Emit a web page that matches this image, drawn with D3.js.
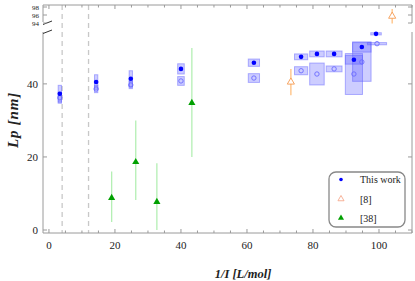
<!DOCTYPE html>
<html>
<head>
<meta charset="utf-8">
<script src="https://cdn.jsdelivr.net/npm/d3@7"></script>
<style>
  body { margin: 0; background: #fff; }
  text { font-family: "Liberation Serif", "DejaVu Serif", serif; fill: #222; }
</style>
</head>
<body>
<div id="chart"></div>
<script>
// this work: x position, filled/open Lp values and their error half-widths
var xThis    = [3.3, 14.3, 24.8, 40, 62.1, 76.4, 81.2, 86.4, 92.4, 94.8, 99.1];
var xErr     = [0.5, 0.5, 0.5, 1.0, 1.7, 2.0, 2.2, 2.4, 2.6, 2.8, 1.6];
var lpFilled = [37.3, 40.5, 41.4, 44.1, 45.8, 47.4, 48.2, 48.2, 46.6, 50.1, 53.7];
var errFilled = [2.3, 2.0, 2.2, 1.4, 1.0, 0.8, 0.8, 0.8, 1.2, 1.4, 0.3];
var xOpen    = [3.3, 14.3, 24.8, 40, 62.1, 76.4, 81.2, 86.4, 92.4, 94.8, 99.4];
var xErrOpen = [0.5, 0.5, 0.5, 1.0, 1.7, 2.0, 2.2, 2.4, 2.6, 2.8, 2.9];
var lpOpen   = [36.2, 38.6, 39.7, 40.8, 41.6, 43.6, 42.7, 44.1, 42.7, 46.0, 51.0];
var errOpen  = [1.5, 1.0, 1.0, 1.2, 1.2, 1.1, 3.0, 0.8, 5.6, 5.3, 0.3];

// ref [8]
var x8  = [73.3, 104];
var lp8 = [40.5, 95.7];
var err8 = [3.6, 1.8];

// ref [38]
var x38  = [19, 26.3, 32.7, 43.3];
var lp38 = [8.8, 18.6, 7.7, 34.8];
var lo38 = [2.2, 8.2, 0, 20];
var hi38 = [16, 30, 18.3, 49.8];

var dashedX = [4, 12];
var xTicks = [0, 20, 40, 60, 80, 100];
var yTicksLow = [0, 20, 40];
var yTicksHigh = [94, 96, 98];
var legendLabels = ["This work", "[8]", "[38]"];

var width = 415, height = 281;
var left = 43, right = 412, bottom = 233;
var lowTop = 32, highTop = 5, highBottom = 22;

var x = d3.scaleLinear().domain([-1.8, 110]).range([left, right]);
var yLow = d3.scaleLinear().domain([-0.82, 54.2]).range([bottom, lowTop]);
var yHigh = d3.scaleLinear().domain([94.25, 98.5]).range([highBottom, highTop]);
function y(v) { return v > 90 ? yHigh(v) : yLow(v); }

var svg = d3.select("#chart").append("svg")
    .attr("width", width).attr("height", height);

var axisColor = "#9a9a9a";

// dashed reference lines
svg.selectAll(".dash").data(dashedX).enter().append("line")
    .attr("x1", d => x(d)).attr("x2", d => x(d))
    .attr("y1", highTop).attr("y2", bottom)
    .attr("stroke", "#c8c8c8").attr("stroke-width", 1.3)
    .attr("stroke-dasharray", "5,4");

// frame
var frame = svg.append("g").attr("stroke", axisColor).attr("stroke-width", 1).attr("fill", "none");
frame.append("line").attr("x1", left).attr("x2", right).attr("y1", bottom).attr("y2", bottom);
frame.append("line").attr("x1", left).attr("x2", right).attr("y1", highTop).attr("y2", highTop);
frame.append("line").attr("x1", left).attr("x2", left).attr("y1", highTop).attr("y2", highBottom);
frame.append("line").attr("x1", left).attr("x2", left).attr("y1", lowTop).attr("y2", bottom);
frame.append("line").attr("x1", right).attr("x2", right).attr("y1", highTop).attr("y2", highBottom + 1);
frame.append("line").attr("x1", right).attr("x2", right).attr("y1", lowTop).attr("y2", bottom);

// axis break marks
frame.append("line").attr("x1", left).attr("y1", highBottom + 2.5).attr("x2", left + 9).attr("y2", highBottom - 1)
    .attr("stroke", "#333");
frame.append("line").attr("x1", left).attr("y1", lowTop + 1.5).attr("x2", left + 9).attr("y2", lowTop - 2)
    .attr("stroke", "#333");

// x ticks every 5 on bottom and top
var minorX = d3.range(0, 111, 5);
minorX.forEach(function(v) {
  var len = v % 20 === 0 ? 4 : 2.5;
  frame.append("line").attr("x1", x(v)).attr("x2", x(v)).attr("y1", bottom).attr("y2", bottom - len);
  frame.append("line").attr("x1", x(v)).attr("x2", x(v)).attr("y1", highTop).attr("y2", highTop + len);
});
svg.selectAll(".xl").data(xTicks).enter().append("text")
    .attr("x", d => x(d)).attr("y", 249)
    .attr("text-anchor", "middle").attr("font-size", 11)
    .text(d => d);

// y ticks
yTicksLow.forEach(function(v) {
  frame.append("line").attr("x1", left).attr("x2", left + 4).attr("y1", yLow(v)).attr("y2", yLow(v));
  frame.append("line").attr("x1", right).attr("x2", right - 4).attr("y1", yLow(v)).attr("y2", yLow(v));
});
yTicksHigh.forEach(function(v) {
  frame.append("line").attr("x1", left).attr("x2", left + 4).attr("y1", yHigh(v)).attr("y2", yHigh(v));
  frame.append("line").attr("x1", right).attr("x2", right - 4).attr("y1", yHigh(v)).attr("y2", yHigh(v));
});
svg.selectAll(".yl").data(yTicksLow).enter().append("text")
    .attr("x", 38).attr("y", d => yLow(d) + 4)
    .attr("text-anchor", "end").attr("font-size", 11)
    .text(d => d);
svg.selectAll(".yh").data(yTicksHigh).enter().append("text")
    .attr("x", 39).attr("y", d => yHigh(d) + 2.5)
    .attr("text-anchor", "end").attr("font-size", 7)
    .text(d => d);

// axis titles
svg.append("text")
    .attr("x", 243).attr("y", 278)
    .attr("text-anchor", "middle").attr("font-size", 12.5)
    .attr("font-weight", "bold").attr("font-style", "italic")
    .text("1/I [L/mol]");
svg.append("text")
    .attr("transform", "translate(18,120) rotate(-90)")
    .attr("text-anchor", "middle").attr("font-size", 15)
    .attr("font-weight", "bold").attr("font-style", "italic")
    .attr("letter-spacing", 0.8)
    .text("Lp [nm]");

// this work: error boxes
var boxFill = "rgba(90,90,255,0.3)", boxStroke = "rgba(90,90,255,0.45)";
var g = svg.append("g");
xThis.forEach(function(xv, i) {
  g.append("rect")
    .attr("x", x(xOpen[i] - xErrOpen[i])).attr("width", x(xOpen[i] + xErrOpen[i]) - x(xOpen[i] - xErrOpen[i]))
    .attr("y", yLow(lpOpen[i] + errOpen[i])).attr("height", yLow(lpOpen[i] - errOpen[i]) - yLow(lpOpen[i] + errOpen[i]))
    .attr("fill", boxFill).attr("stroke", boxStroke);
  g.append("rect")
    .attr("x", x(xv - xErr[i])).attr("width", x(xv + xErr[i]) - x(xv - xErr[i]))
    .attr("y", yLow(lpFilled[i] + errFilled[i])).attr("height", yLow(lpFilled[i] - errFilled[i]) - yLow(lpFilled[i] + errFilled[i]))
    .attr("fill", boxFill).attr("stroke", boxStroke);
});
xOpen.forEach(function(xv, i) {
  g.append("circle").attr("cx", x(xv)).attr("cy", yLow(lpOpen[i])).attr("r", 2.2)
    .attr("fill", "none").attr("stroke", "#6a6aff").attr("stroke-width", 0.9);
});
xThis.forEach(function(xv, i) {
  g.append("circle").attr("cx", x(xv)).attr("cy", yLow(lpFilled[i])).attr("r", 2.3)
    .attr("fill", "#0000ff");
});

// ref [8]
var tri = d3.symbol().type(d3.symbolTriangle).size(22);
x8.forEach(function(xv, i) {
  g.append("line").attr("x1", x(xv)).attr("x2", x(xv))
    .attr("y1", y(lp8[i] - err8[i])).attr("y2", y(lp8[i] + err8[i]))
    .attr("stroke", "#ffc890").attr("stroke-width", 1.5);
  g.append("path").attr("d", tri).attr("transform", "translate(" + x(xv) + "," + y(lp8[i]) + ")")
    .attr("fill", "#fff").attr("stroke", "#f59a50").attr("stroke-width", 0.9);
});

// ref [38]
x38.forEach(function(xv, i) {
  g.append("line").attr("x1", x(xv)).attr("x2", x(xv))
    .attr("y1", yLow(lo38[i])).attr("y2", yLow(hi38[i]))
    .attr("stroke", "#b4efb4").attr("stroke-width", 1.3);
  g.append("path").attr("d", tri).attr("transform", "translate(" + x(xv) + "," + yLow(lp38[i]) + ")")
    .attr("fill", "#00a000");
});

// legend
var lg = svg.append("g");
lg.append("rect").attr("x", 329).attr("y", 172).attr("width", 76).attr("height", 55)
  .attr("rx", 7).attr("fill", "#fff").attr("stroke", "#888").attr("stroke-width", 1.3);
var ly = [179.5, 199, 218];
lg.append("circle").attr("cx", 341).attr("cy", ly[0]).attr("r", 1.8).attr("fill", "#0000ff");
lg.append("path").attr("d", d3.symbol().type(d3.symbolTriangle).size(16))
  .attr("transform", "translate(341," + ly[1] + ")")
  .attr("fill", "#fff").attr("stroke", "#f5a080").attr("stroke-width", 0.8);
lg.append("path").attr("d", d3.symbol().type(d3.symbolTriangle).size(16))
  .attr("transform", "translate(341," + ly[2] + ")")
  .attr("fill", "#00a000");
lg.selectAll(".lt").data(legendLabels).enter().append("text")
  .attr("x", 360).attr("y", (d, i) => ly[i] + 3.5)
  .attr("font-size", 10).text(d => d);
</script>
</body>
</html>
